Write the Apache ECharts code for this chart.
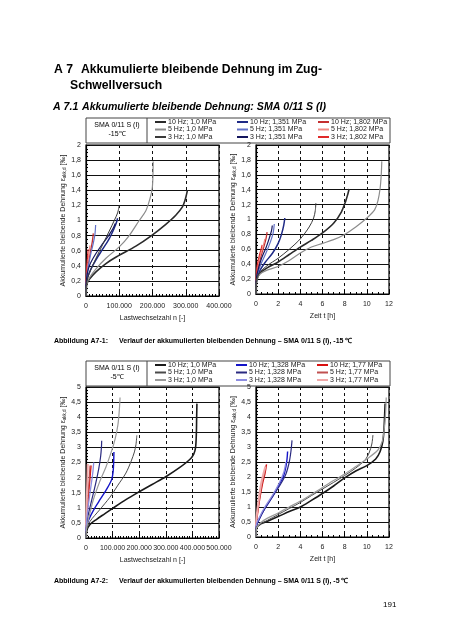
<!DOCTYPE html>
<html><head><meta charset="utf-8">
<script src="https://cdn.jsdelivr.net/npm/echarts@6/dist/echarts.min.js"></script>
<style>html,body{margin:0;padding:0;background:#fff}#c{width:452px;height:640px}</style>
</head><body><div id="c"></div>
<script>
// ---------- Figure A7-1 (-15 °C): strain vs. load cycles ----------
const f1n_10Hz_10 = [[0,0],[2000,0.15],[10000,0.22],[30000,0.32],[60000,0.43],[92000,0.52],[150000,0.66],[197000,0.8],[240000,0.95],[270000,1.07],[290000,1.18],[298000,1.27],[302000,1.34],[305000,1.4]];
const f1n_5Hz_10 = [[0,0],[2000,0.15],[10000,0.24],[30000,0.36],[60000,0.5],[100000,0.65],[130000,0.8],[160000,1.0],[180000,1.13],[193000,1.3],[199000,1.42],[201000,1.55],[202000,1.78]];
const f1n_3Hz_10 = [[0,0],[2000,0.18],[10000,0.3],[30000,0.5],[50000,0.68],[70000,0.86],[85000,1.0],[95000,1.1],[100000,1.2]];
const f1n_10Hz_1351 = [[0,0],[1000,0.15],[5000,0.25],[15000,0.36],[30000,0.48],[50000,0.62],[70000,0.76],[85000,0.9],[92000,0.98],[95000,1.03]];
const f1n_5Hz_1351 = [[0,0],[500,0.16],[3000,0.28],[8000,0.42],[15000,0.57],[22000,0.7],[27000,0.82],[29000,0.94]];
const f1n_3Hz_1351 = [[0,0],[800,0.17],[4000,0.3],[12000,0.42],[28000,0.55],[48000,0.68],[68000,0.8],[82000,0.9],[88000,0.96]];
const f1n_10Hz_1802 = [[0,0],[500,0.15],[3000,0.3],[8000,0.45],[14000,0.6],[19000,0.72],[22000,0.83]];
const f1n_5Hz_1802 = [[0,0],[500,0.18],[3000,0.35],[7000,0.5],[10000,0.6],[12000,0.67]];
const f1n_3Hz_1802 = [[0,0],[300,0.2],[2000,0.38],[4500,0.52],[6500,0.62]];
// Figure A7-1: strain vs. time [h]
const f1t_10Hz_10 = [[0,0],[0.05,0.17],[0.3,0.27],[1,0.35],[2,0.43],[3,0.53],[4,0.63],[5,0.72],[6,0.82],[7,0.95],[7.7,1.1],[8.1,1.25],[8.3,1.35],[8.4,1.41]];
const f1t_5Hz_10 = [[0,0],[0.05,0.17],[0.3,0.26],[1,0.32],[2,0.37],[3,0.45],[4,0.55],[5,0.63],[6,0.68],[7,0.73],[8,0.8],[9,0.9],[10,1.02],[10.7,1.13],[11.0,1.25],[11.2,1.42],[11.3,1.6],[11.35,1.78]];
const f1t_3Hz_10 = [[0,0],[0.05,0.18],[0.3,0.28],[1,0.38],[2,0.48],[3,0.6],[4,0.74],[4.8,0.9],[5.2,1.02],[5.35,1.12],[5.4,1.22]];
const f1t_10Hz_1351 = [[0,0],[0.05,0.18],[0.3,0.3],[0.8,0.42],[1.5,0.55],[2.0,0.68],[2.3,0.8],[2.5,0.92],[2.6,1.02]];
const f1t_5Hz_1351 = [[0,0],[0.03,0.18],[0.2,0.3],[0.5,0.42],[0.9,0.55],[1.3,0.7],[1.55,0.82],[1.65,0.94]];
const f1t_3Hz_1351 = [[0,0],[0.03,0.2],[0.2,0.33],[0.5,0.48],[0.9,0.62],[1.2,0.75],[1.4,0.85],[1.47,0.92]];
const f1t_10Hz_1802 = [[0,0],[0.02,0.18],[0.15,0.32],[0.4,0.48],[0.7,0.63],[0.9,0.74],[1.0,0.83]];
const f1t_5Hz_1802 = [[0,0],[0.02,0.2],[0.12,0.35],[0.35,0.5],[0.6,0.62],[0.8,0.74]];
const f1t_3Hz_1802 = [[0,0],[0.02,0.22],[0.1,0.38],[0.3,0.52],[0.45,0.6],[0.55,0.66]];
// ---------- Figure A7-2 (-5 °C): strain vs. load cycles ----------
const f2n_10Hz_10 = [[0,0],[3000,0.25],[15000,0.45],[40000,0.62],[70000,0.8],[100000,0.98],[150000,1.27],[200000,1.53],[250000,1.78],[300000,2.03],[350000,2.32],[390000,2.6],[405000,2.78],[412000,3.0],[415000,3.5],[416000,4.0],[417000,4.45]];
const f2n_5Hz_10 = [[0,0],[3000,0.3],[15000,0.55],[50000,0.92],[90000,1.35],[120000,1.75],[150000,2.15],[170000,2.55],[182000,2.85],[188000,3.1],[191000,3.4]];
const f2n_3Hz_10 = [[0,0],[2000,0.3],[10000,0.65],[27000,1.25],[53000,1.9],[75000,2.35],[95000,2.85],[110000,3.3],[120000,3.75],[125000,4.2],[128000,4.65]];
const f2n_10Hz_1328 = [[0,0],[2000,0.35],[10000,0.6],[30000,0.95],[55000,1.3],[80000,1.65],[97000,1.95],[102000,2.2],[104000,2.5],[105000,2.85]];
const f2n_5Hz_1328 = [[0,0],[1500,0.4],[8000,0.75],[20000,1.2],[35000,1.75],[48000,2.3],[55000,2.7],[58000,3.0],[59000,3.22]];
const f2n_3Hz_1328 = [[0,0],[1000,0.4],[5000,0.8],[12000,1.3],[20000,1.8],[26000,2.2],[29000,2.5]];
const f2n_10Hz_177 = [[0,0],[1000,0.4],[5000,0.9],[10000,1.5],[15000,2.0],[19000,2.4]];
const f2n_5Hz_177 = [[0,0],[800,0.4],[4000,0.9],[8000,1.45],[12000,1.95],[15000,2.4]];
const f2n_3Hz_177 = [[0,0],[500,0.5],[2000,1.0],[4000,1.6],[5500,2.0],[6500,2.45]];
// Figure A7-2: strain vs. time [h]
const f2t_10Hz_10 = [[0,0],[0.05,0.3],[0.5,0.45],[1,0.52],[2,0.68],[3,0.85],[4,1.0],[5,1.22],[6,1.45],[7,1.7],[8,1.97],[9,2.2],[10,2.38],[10.8,2.6],[11.2,2.85],[11.45,3.2],[11.55,3.6],[11.6,4.0],[11.65,4.45]];
const f2t_5Hz_10 = [[0,0],[0.05,0.3],[0.5,0.45],[1,0.55],[2,0.75],[3,0.95],[4,1.15],[5,1.38],[6,1.6],[7,1.82],[8,2.05],[9,2.3],[9.8,2.55],[10.2,2.8],[10.45,3.1],[10.55,3.4]];
const f2t_3Hz_10 = [[0,0],[0.05,0.3],[0.5,0.5],[1,0.62],[2,0.8],[3,1.0],[4,1.2],[5,1.42],[6,1.65],[7,1.88],[8,2.1],[9,2.35],[10,2.6],[11,2.9],[11.4,3.2],[11.6,3.7],[11.7,4.2],[11.75,4.65]];
const f2t_10Hz_1328 = [[0,0],[0.03,0.35],[0.3,0.6],[0.8,0.95],[1.5,1.35],[2.1,1.75],[2.5,2.05],[2.7,2.35],[2.8,2.6],[2.85,2.85]];
const f2t_5Hz_1328 = [[0,0],[0.03,0.35],[0.3,0.6],[0.8,0.95],[1.5,1.35],[2.2,1.75],[2.7,2.1],[3.0,2.5],[3.15,2.85],[3.25,3.22]];
const f2t_3Hz_1328 = [[0,0],[0.03,0.4],[0.3,0.65],[0.8,1.0],[1.5,1.4],[2.1,1.8],[2.5,2.15],[2.7,2.5]];
const f2t_10Hz_177 = [[0,0],[0.02,0.4],[0.15,0.8],[0.35,1.3],[0.6,1.8],[0.8,2.1],[0.95,2.42]];
const f2t_5Hz_177 = [[0,0],[0.02,0.45],[0.15,0.85],[0.35,1.35],[0.55,1.8],[0.75,2.1],[0.9,2.38]];
const f2t_3Hz_177 = [[0,0],[0.02,0.5],[0.12,0.9],[0.3,1.4],[0.5,1.85],[0.7,2.15],[0.85,2.35]];

// tick values
const cyclesTicks1 = [0,100000,200000,300000,400000];
const cyclesTicks2 = [0,100000,200000,300000,400000,500000];
const hourTicks = [0,2,4,6,8,10,12];

// legend labels
const f1Names = ['10 Hz; 1,0 MPa','5 Hz; 1,0 MPa','3 Hz; 1,0 MPa','10 Hz; 1,351 MPa','5 Hz; 1,351 MPa','3 Hz; 1,351 MPa','10 Hz; 1,802 MPa','5 Hz; 1,802 MPa','3 Hz; 1,802 MPa'];
const f2Names = ['10 Hz; 1,0 MPa','5 Hz; 1,0 MPa','3 Hz; 1,0 MPa','10 Hz; 1,328 MPa','5 Hz; 1,328 MPa','3 Hz; 1,328 MPa','10 Hz; 1,77 MPa','5 Hz; 1,77 MPa','3 Hz; 1,77 MPa'];
const ZW = '\u200B';
const f2Keys = f2Names.map(n => n + ZW);

const f1Colors = ['#2a2a2a','#8c8c8c','#3a3a3a','#1f2a86','#6272c8','#14165e','#c42f2f','#f08a84','#e02a2a'];
const f1Widths = [1.6,1.2,1,1.5,1.2,1.2,1.3,1.1,1.1];
const f2Colors = ['#1a1a1a','#4a4a4a','#9a9a9a','#1414c8','#2a2a80','#8c8ce0','#d81010','#c05050','#f0a8a8'];
const f2Widths = [1.6,1,1.2,1.4,1.2,1.3,1.4,1.2,2];

const f1N = [f1n_10Hz_10,f1n_5Hz_10,f1n_3Hz_10,f1n_10Hz_1351,f1n_5Hz_1351,f1n_3Hz_1351,f1n_10Hz_1802,f1n_5Hz_1802,f1n_3Hz_1802];
const f1T = [f1t_10Hz_10,f1t_5Hz_10,f1t_3Hz_10,f1t_10Hz_1351,f1t_5Hz_1351,f1t_3Hz_1351,f1t_10Hz_1802,f1t_5Hz_1802,f1t_3Hz_1802];
const f2N = [f2n_10Hz_10,f2n_5Hz_10,f2n_3Hz_10,f2n_10Hz_1328,f2n_5Hz_1328,f2n_3Hz_1328,f2n_10Hz_177,f2n_5Hz_177,f2n_3Hz_177];
const f2T = [f2t_10Hz_10,f2t_5Hz_10,f2t_3Hz_10,f2t_10Hz_1328,f2t_5Hz_1328,f2t_3Hz_1328,f2t_10Hz_177,f2t_5Hz_177,f2t_3Hz_177];

const FONT = '"Liberation Sans", Arial, sans-serif';
const TXT = '#1a1a1a';

function yAxisDef(gi, max, interval, minorN, nameGap){
  return {
    type:'value', gridIndex:gi, min:0, max:max, interval:interval,
    axisLine:{show:true, lineStyle:{color:'#000', width:1.2}},
    axisTick:{show:true, inside:true, length:4, lineStyle:{color:'#000'}},
    minorTick:{show:true, splitNumber:minorN, length:2, lineStyle:{color:'#000'}},
    splitLine:{show:true, lineStyle:{color:'#111', width:1.1}},
    axisLabel:{fontSize:7, color:TXT, fontFamily:FONT, margin:5, formatter:v=>String(v).replace('.',',')},
    name:'{a|Akkumulierte bleibende Dehnung ε}{s|akk,d}{a| [‰]}',
    nameLocation:'middle', nameGap:nameGap, nameRotate:90,
    nameTextStyle:{color:TXT, fontFamily:FONT, rich:{a:{fontSize:7, fontFamily:FONT, color:TXT}, s:{fontSize:4.5, fontFamily:FONT, color:TXT, padding:[3,0,0,0]}}}
  };
}
function xAxisDef(gi, max, interval, minorN, isCycles, name){
  return {
    type:'value', gridIndex:gi, min:0, max:max, interval:interval,
    axisLine:{show:true, onZero:false, lineStyle:{color:'#000', width:1.2}},
    axisTick:{show:true, inside:true, length:4, lineStyle:{color:'#000'}},
    minorTick:{show:true, splitNumber:minorN, length:2, lineStyle:{color:'#000'}},
    splitLine:{show:true, lineStyle:{color:'#111', width:1, type:[3,3]}},
    axisLabel:{fontSize:7, color:TXT, fontFamily:FONT, margin:7, showMaxLabel:true,
      formatter: v => isCycles ? (v===0 ? '0' : (v/1000)+'.000') : String(v)},
    name:name, nameLocation:'middle', nameGap:19,
    nameTextStyle:{fontSize:7, color:TXT, fontFamily:FONT}
  };
}

const grids = [
  {left:86, top:145, width:133, height:151},
  {left:256, top:145, width:133, height:149},
  {left:86, top:387, width:133, height:151},
  {left:256, top:387, width:133, height:150}
].map(g => Object.assign({show:true, borderColor:'#000', borderWidth:1.2, backgroundColor:'#fff', containLabel:false}, g));

const xAxes = [
  xAxisDef(0, cyclesTicks1[cyclesTicks1.length-1], cyclesTicks1[1]-cyclesTicks1[0], 10, true, 'Lastwechselzahl n [-]'),
  xAxisDef(1, hourTicks[hourTicks.length-1], hourTicks[1]-hourTicks[0], 4, false, 'Zeit t [h]'),
  xAxisDef(2, cyclesTicks2[cyclesTicks2.length-1], cyclesTicks2[1]-cyclesTicks2[0], 10, true, 'Lastwechselzahl n [-]'),
  xAxisDef(3, hourTicks[hourTicks.length-1], hourTicks[1]-hourTicks[0], 4, false, 'Zeit t [h]')
];
const yAxes = [
  yAxisDef(0, 2, 0.2, 4, 19),
  yAxisDef(1, 2, 0.2, 4, 18),
  yAxisDef(2, 5, 0.5, 5, 19),
  yAxisDef(3, 5, 0.5, 5, 18)
];

const series = [];
function add(names, colors, widths, sets, idx){
  sets.forEach((d,i) => series.push({
    type:'line', name:names[i], data:d, xAxisIndex:idx, yAxisIndex:idx,
    symbol:'none', smooth:0.3, silent:true, animation:false,
    lineStyle:{color:colors[i], width:widths[i]}, itemStyle:{color:colors[i]},
    z: 10 - Math.floor(i/3)
  }));
}
add(f1Names, f1Colors, f1Widths, f1N, 0);
add(f1Names, f1Colors, f1Widths, f1T, 1);
add(f2Keys, f2Colors, f2Widths, f2N, 2);
add(f2Keys, f2Colors, f2Widths, f2T, 3);

function legendCol(names, left, top){
  return {
    orient:'vertical', left:left, top:top, itemWidth:11, itemHeight:2, itemGap:0.5,
    selectedMode:false, padding:0, icon:'rect',
    data:names,
    formatter: n => n.replace(ZW,''),
    textStyle:{fontSize:7, fontFamily:FONT, color:TXT, lineHeight:7, padding:[0,0,0,-3]},
    itemStyle:{borderWidth:0}
  };
}
const legends = [
  legendCol(f1Names.slice(0,3), 155, 118.5),
  legendCol(f1Names.slice(3,6), 237, 118.5),
  legendCol(f1Names.slice(6,9), 318, 118.5),
  legendCol(f2Keys.slice(0,3), 155, 361.5),
  legendCol(f2Keys.slice(3,6), 236, 361.5),
  legendCol(f2Keys.slice(6,9), 317, 361.5)
];

function txt(x, y, text, font, align){
  return {type:'text', x:x, y:y, silent:true, style:{text:text, font:font, fill:'#000', align:align||'left', verticalAlign:'middle'}};
}
const H1 = 'bold 12.2px ' + FONT;
const H2 = 'italic bold 10.6px ' + FONT;
const CAP = 'bold 7px ' + FONT;
const SM = '7px ' + FONT;
const graphic = [
  txt(54, 70, 'A 7', H1), txt(81, 70, 'Akkumulierte bleibende Dehnung im Zug-', H1),
  txt(70, 86, 'Schwellversuch', H1),
  txt(53, 107, 'A 7.1', H2), txt(82, 107, 'Akkumulierte bleibende Dehnung: SMA 0/11 S (I)', H2),
  {type:'rect', silent:true, shape:{x:86, y:118, width:304, height:25}, style:{fill:'none', stroke:'#444', lineWidth:1}},
  {type:'line', silent:true, shape:{x1:147, y1:118, x2:147, y2:143}, style:{stroke:'#444', lineWidth:1}},
  txt(117, 125.5, 'SMA 0/11 S (I)', SM, 'center'), txt(117, 134.5, '-15℃', SM, 'center'),
  txt(54, 341, 'Abbildung A7-1:', CAP), txt(119, 341, 'Verlauf der akkumulierten bleibenden Dehnung – SMA 0/11 S (I), -15 ℃', CAP),
  {type:'rect', silent:true, shape:{x:86, y:361, width:304, height:25}, style:{fill:'none', stroke:'#444', lineWidth:1}},
  {type:'line', silent:true, shape:{x1:147, y1:361, x2:147, y2:386}, style:{stroke:'#444', lineWidth:1}},
  txt(117, 368.5, 'SMA 0/11 S (I)', SM, 'center'), txt(117, 377, '-5℃', SM, 'center'),
  txt(54, 581, 'Abbildung A7-2:', CAP), txt(119, 581, 'Verlauf der akkumulierten bleibenden Dehnung – SMA 0/11 S (I), -5 ℃', CAP),
  txt(383, 605, '191', '8px ' + FONT)
];

const chart = echarts.init(document.getElementById('c'), null, {renderer:'canvas'});
chart.setOption({
  backgroundColor:'#fff', animation:false,
  grid:grids, xAxis:xAxes, yAxis:yAxes, series:series, legend:legends, graphic:graphic
});
</script></body></html>
